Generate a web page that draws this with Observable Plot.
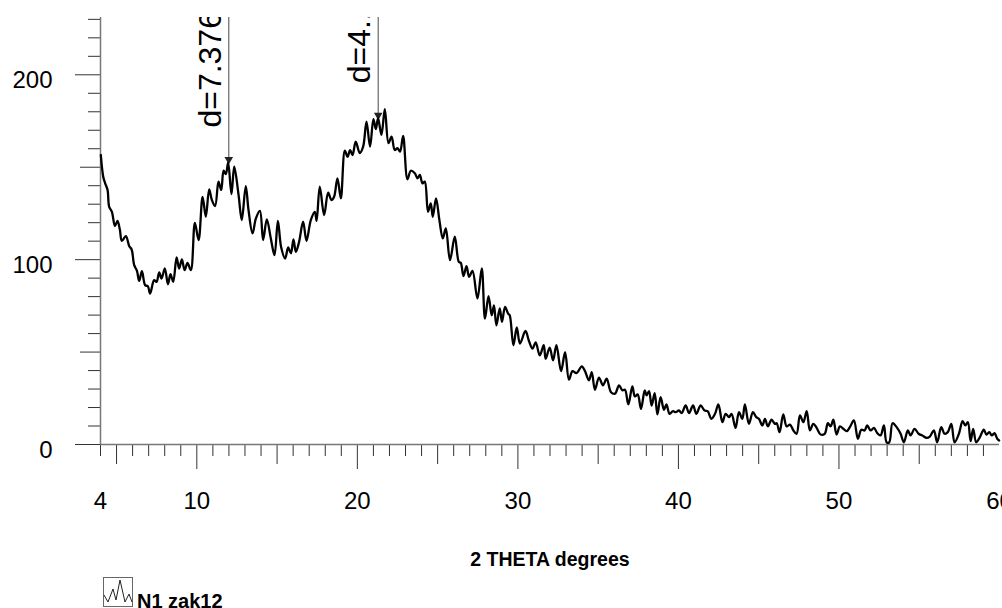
<!DOCTYPE html>
<html><head><meta charset="utf-8">
<script src="https://cdn.jsdelivr.net/npm/d3@7"></script>
<script src="https://cdn.jsdelivr.net/npm/@observablehq/plot@0.6"></script>
<style>
body{margin:0;background:#fff;font-family:"Liberation Sans",Arial,sans-serif;}
#wrap{position:relative;width:1002px;height:608px;overflow:hidden;background:#fff;}
#legend{position:absolute;left:103px;top:578px;height:30px;display:flex;align-items:flex-end;}
#legend span{font-weight:bold;font-size:20px;line-height:20px;color:#000;margin-left:3px;position:relative;top:3px;}
</style></head><body><div id="wrap"></div>
<script>
// 2θ (degrees) and intensity
const twoTheta = [4.02,4.17,4.29,4.44,4.54,4.71,4.90,5.06,5.21,5.33,5.58,5.79,5.94,6.10,6.27,6.41,6.58,6.78,6.95,7.09,7.34,7.49,7.66,7.80,8.01,8.20,8.36,8.53,8.74,8.90,9.07,9.24,9.42,9.63,9.88,10.11,10.36,10.56,10.77,10.94,11.14,11.35,11.52,11.67,11.81,11.95,12.16,12.33,12.60,12.80,13.05,13.22,13.47,13.68,13.93,14.13,14.36,14.61,14.84,15.05,15.25,15.50,15.69,15.86,16.02,16.17,16.37,16.62,16.83,17.10,17.35,17.46,17.66,17.93,18.18,18.39,18.55,18.76,18.97,19.22,19.39,19.55,19.70,19.90,20.15,20.36,20.57,20.79,21.00,21.15,21.29,21.50,21.71,21.94,22.13,22.33,22.50,22.66,22.85,23.12,23.33,23.58,23.75,23.89,24.06,24.20,24.40,24.57,24.70,24.90,25.11,25.32,25.51,25.77,26.07,26.32,26.44,26.61,26.80,26.96,27.17,27.48,27.75,27.95,28.17,28.37,28.51,28.66,28.87,29.01,29.20,29.39,29.49,29.72,29.93,30.13,30.47,30.69,30.91,31.11,31.36,31.61,31.73,31.98,32.19,32.40,32.69,32.94,33.18,33.40,33.65,33.98,34.18,34.43,34.60,34.80,35.05,35.30,35.53,35.80,36.05,36.30,36.51,36.67,36.88,37.13,37.29,37.46,37.67,37.90,38.02,38.17,38.33,38.52,38.69,38.89,39.10,39.25,39.45,39.66,39.83,40.03,40.20,40.45,40.66,40.91,41.12,41.38,41.63,41.82,42.05,42.28,42.49,42.74,42.94,43.15,43.31,43.56,43.77,43.98,44.14,44.39,44.64,44.85,45.01,45.23,45.39,45.57,45.80,46.01,46.12,46.30,46.53,46.74,46.95,47.16,47.36,47.57,47.78,47.99,48.19,48.40,48.61,48.86,49.11,49.31,49.48,49.65,49.85,50.06,50.27,50.48,50.68,50.93,51.18,51.39,51.60,51.76,51.97,52.18,52.39,52.59,52.80,52.97,53.13,53.34,53.59,53.84,54.04,54.29,54.46,54.71,54.96,55.19,55.46,55.66,55.91,56.12,56.37,56.58,56.78,57.00,57.20,57.47,57.70,57.87,58.03,58.20,58.36,58.55,58.78,59.02,59.19,59.36,59.52,59.69,59.86,59.98];
const intensity = [156.6,144.9,141.3,137.7,128.6,125.9,118.2,121.0,116.0,110.2,112.7,107.3,105.5,97.0,93.9,88.5,93.8,86.2,85.6,81.7,88.9,88.0,93.1,89.8,95.2,86.7,92.1,88.0,101.2,95.2,100.1,94.3,98.3,94.3,119.9,110.6,134.0,123.2,138.0,132.2,129.0,142.2,137.7,148.1,146.3,152.5,135.5,150.3,135.0,121.4,139.8,126.8,114.2,122.3,126.4,110.6,121.8,111.5,102.4,121.0,106.9,100.6,106.6,103.4,111.0,104.2,109.6,120.5,110.2,121.4,125.9,121.0,139.5,124.1,136.2,132.2,134.0,144.0,133.2,159.0,155.7,159.3,156.6,163.8,157.6,161.1,174.7,161.1,176.0,170.6,176.5,167.5,181.4,163.0,166.6,159.3,160.3,158.4,166.9,143.5,148.1,146.7,144.0,145.8,141.3,142.2,125.9,130.4,123.2,133.2,121.4,111.5,116.9,99.7,112.4,98.8,98.3,91.1,96.5,90.7,93.9,79.0,95.2,68.1,80.2,69.9,75.3,64.5,73.6,66.3,74.4,70.8,69.9,53.7,63.3,54.6,61.4,56.0,51.9,55.3,48.2,53.7,46.4,52.4,45.5,53.7,39.7,50.0,35.1,39.7,38.6,42.3,39.7,34.7,39.2,29.6,36.2,32.0,35.6,28.3,27.5,32.0,29.3,29.6,21.7,31.4,26.0,27.1,19.3,29.3,26.6,28.9,21.1,27.8,16.3,25.6,18.8,21.7,16.6,18.0,17.5,18.4,17.0,21.1,17.0,21.1,16.6,21.1,18.4,18.0,13.9,16.6,21.7,12.1,16.6,14.8,16.6,9.0,17.5,13.9,21.7,11.2,17.5,14.8,13.9,10.3,13.9,9.8,13.4,11.2,11.5,6.7,16.3,9.8,10.8,7.6,5.8,15.7,12.1,18.0,7.6,11.2,9.0,5.4,5.8,11.5,9.8,13.4,5.4,9.8,8.5,7.2,9.4,13.0,3.1,8.0,7.6,10.3,7.6,9.0,6.1,4.9,10.3,1.2,1.2,11.5,9.4,5.8,1.2,7.6,4.9,8.5,5.8,4.9,3.6,4.3,7.6,1.2,9.4,5.8,6.7,11.2,1.2,5.8,12.6,10.3,12.1,1.8,8.5,1.2,4.0,8.0,5.4,6.7,4.9,6.1,3.1,2.2];

// peak annotations
const peakX = [11.99, 21.30];
const peakY = [152.5, 176.5];
const peakLabels = ["d=7.376", "d=4.161"];

// axis ticks
const xLabels = [4, 10, 20, 30, 40, 50, 60];
const xMajor = [10, 20, 30, 40, 50];
const xMid = [5, 15, 25, 35, 45, 55];
const xMinor = d3.range(4, 60).filter(v => v % 5 !== 0);
const yLabels = [0, 100, 200];
const yMajor = [0, 100, 200];
const yMid = [50, 150];
const yMinor = d3.range(10, 240, 10).filter(v => v % 50 !== 0);
const yTop = 231;

const xTitle = "2 THETA degrees";
const seriesName = "N1 zak12";

const peaks = peakX.map((x, i) => ({x, y: peakY[i], label: peakLabels[i]}));
const noText = () => "";
const tickColor = "#333";

const chart = Plot.plot({
  width: 1002,
  height: 575,
  marginLeft: 100,
  marginRight: 3,
  marginTop: 17,
  marginBottom: 131,
  x: {domain: [4, 60]},
  y: {domain: [0, yTop]},
  style: {fontFamily: '"Liberation Sans", Arial, sans-serif', background: "#fff", color: "#000", overflow: "visible"},
  marks: [
    // y axis ticks
    Plot.axisY(yMinor, {tickSize: 12, tickFormat: noText, label: null, stroke: tickColor}),
    Plot.axisY(yMid, {tickSize: 20, tickFormat: noText, label: null, stroke: tickColor}),
    Plot.axisY(yMajor, {tickSize: 25, tickFormat: noText, label: null, stroke: tickColor}),
    Plot.axisY(yLabels, {tickSize: 0, tickPadding: 48, fontSize: 24, dy: 6, label: null, fill: "#000"}),
    // x axis ticks
    Plot.axisX(xMinor, {tickSize: 12, tickFormat: noText, label: null, stroke: tickColor}),
    Plot.axisX(xMid, {tickSize: 20, tickFormat: noText, label: null, stroke: tickColor}),
    Plot.axisX(xMajor, {tickSize: 25, tickFormat: noText, label: null, stroke: tickColor}),
    Plot.axisX(xLabels, {tickSize: 0, tickPadding: 47, fontSize: 24, label: null, fill: "#000"}),
    // axis lines
    Plot.ruleX([4], {stroke: "#777", strokeWidth: 1.5}),
    Plot.ruleY([0], {stroke: "#777", strokeWidth: 1.5}),
    // peak markers
    Plot.ruleX(peaks, {x: "x", y1: "y", y2: () => yTop, stroke: "#666", strokeWidth: 1.2}),
    Plot.dot(peaks, {x: "x", y: "y", symbol: "triangle", r: 3.2, fill: "#222", rotate: 180, dy: -3}),
    Plot.text(peaks, {x: "x", y: "y", text: "label", rotate: -90, textAnchor: "start", lineAnchor: "bottom", dx: -8, dy: -35, fontSize: 32, fill: "#000", clip: true}),
    // the diffractogram
    Plot.line(intensity, {x: twoTheta, y: intensity, stroke: "#000", strokeWidth: 2.3, curve: "catmull-rom", strokeLinejoin: "round"}),
    // x axis title
    Plot.text([xTitle], {text: d => d, frameAnchor: "bottom", dy: 121, fontSize: 19.5, fontWeight: "bold", fill: "#000"})
  ]
});

const wrap = document.getElementById("wrap");
wrap.appendChild(chart);

// legend
const legend = document.createElement("div");
legend.id = "legend";
legend.innerHTML = `<svg width="31" height="31" viewBox="0 0 31 31"><rect x="0.5" y="0.5" width="29" height="29" fill="#fff" stroke="#666"/><polyline points="1,18 5,25 10,12 13,23 17,3 22,25 26,17 29,25" fill="none" stroke="#222" stroke-width="1"/></svg><span></span>`;
legend.querySelector("span").textContent = seriesName;
wrap.appendChild(legend);
</script>
</body></html>
